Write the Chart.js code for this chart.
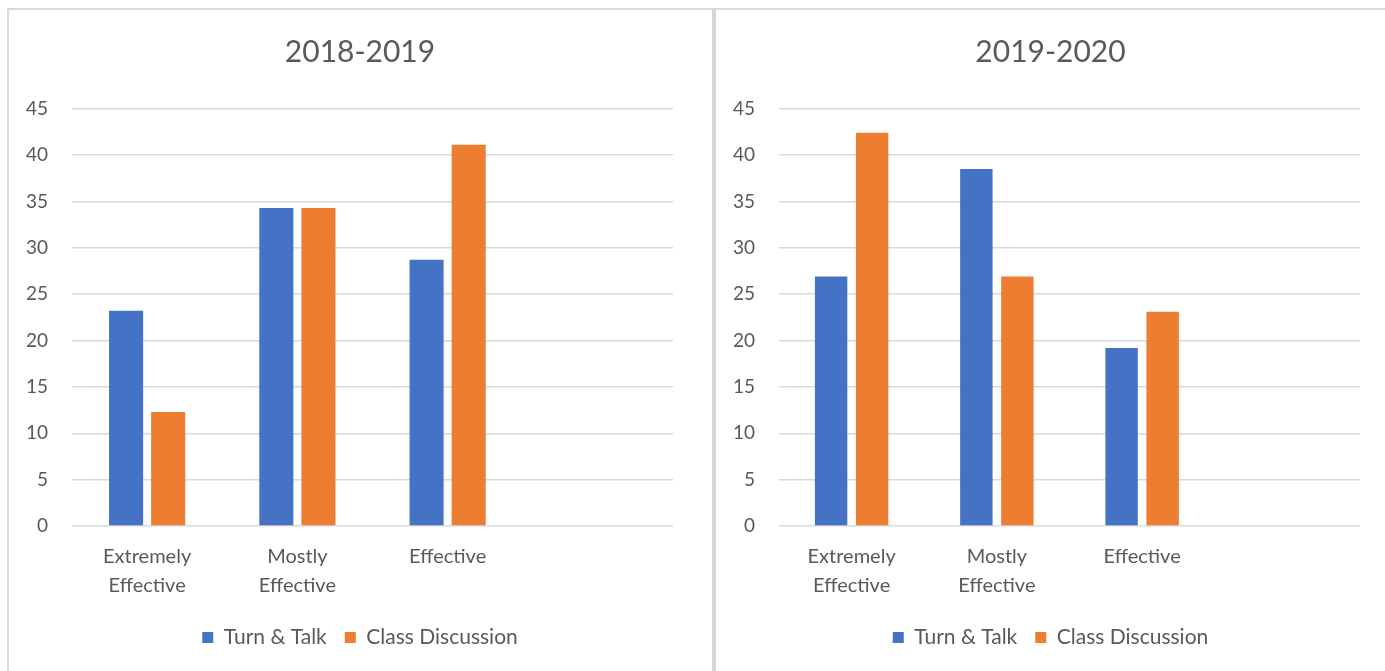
<!DOCTYPE html>
<html>
<head>
<meta charset="utf-8">
<script src="https://cdn.jsdelivr.net/npm/chart.js@4"></script>
<style>
  html, body { margin: 0; padding: 0; background: #ffffff; width: 1385px; height: 671px; overflow: hidden; }
  .line { position: absolute; background: #d9d9d9; }
  .box { position: absolute; }
</style>
</head>
<body>
<div class="line" style="left:7px; top:8px; width:1378px; height:2px;"></div>
<div class="line" style="left:7px; top:8px; width:2px; height:663px;"></div>
<div class="line" style="left:712px; top:8px; width:4px; height:663px; background:#d6d6d6;"></div>
<div class="box" style="left:8px; top:10px; width:704px; height:661px;"><canvas id="c1"></canvas></div>
<div class="box" style="left:716px; top:10px; width:669px; height:661px;"><canvas id="c2"></canvas></div>
<script>
const categories = [["Extremely", "Effective"], ["Mostly", "Effective"], "Effective", ""];
const seriesNames = ["Turn & Talk", "Class Discussion"];
const turnTalk2018 = [23.2, 34.3, 28.7, null];
const classDisc2018 = [12.3, 34.3, 41.1, null];
const turnTalk2019 = [26.9, 38.5, 19.2, null];
const classDisc2019 = [42.4, 26.9, 23.1, null];
const yTicks = [0, 5, 10, 15, 20, 25, 30, 35, 40, 45];
const titles = ["2018-2019", "2019-2020"];

const BLUE = "#4472C4", ORANGE = "#ED7D31", TEXT = "#595959", GRID = "#d9d9d9";
const FONT = "Lato, 'Open Sans', sans-serif";

function makeChart(id, title, a, b, yWidth, rightPad, catPct, barPct) {
  return new Chart(document.getElementById(id), {
    type: "bar",
    data: {
      labels: categories,
      datasets: [
        { label: seriesNames[0], data: a, backgroundColor: BLUE, categoryPercentage: catPct, barPercentage: barPct },
        { label: seriesNames[1], data: b, backgroundColor: ORANGE, categoryPercentage: catPct, barPercentage: barPct }
      ]
    },
    options: {
      responsive: true,
      maintainAspectRatio: false,
      animation: false,
      layout: { padding: { left: 0, right: 0, top: 0, bottom: 13 } },
      plugins: {
        title: {
          display: true, text: title, color: TEXT,
          font: { family: FONT, size: 30, weight: "normal", lineHeight: 1.2 },
          padding: { top: 24, bottom: 38.7 }
        },
        legend: {
          position: "bottom",
          labels: {
            color: TEXT, boxWidth: 11, boxHeight: 11, padding: 18,
            font: { family: FONT, size: 21 }
          }
        },
        tooltip: { enabled: false }
      },
      scales: {
        x: {
          grid: { display: false, drawTicks: false },
          border: { display: false },
          ticks: { color: TEXT, font: { family: FONT, size: 20, lineHeight: 1.45 }, padding: 16, maxRotation: 0, autoSkip: false },
          afterFit(scale) { scale.height = 83; }
        },
        y: {
          min: 0, max: 45,
          afterBuildTicks(scale) { scale.ticks = yTicks.map(v => ({ value: v })); },
          grid: { color: GRID, lineWidth: 1.5, drawTicks: false },
          border: { display: false },
          ticks: { color: TEXT, font: { family: FONT, size: 19 }, padding: 24 },
          afterFit(scale) { scale.width = yWidth; }
        },
        yRight: {
          position: "right", min: 0, max: 45,
          grid: { display: false, drawTicks: false },
          border: { display: false },
          ticks: { display: false },
          afterFit(scale) { scale.width = rightPad; }
        }
      }
    }
  });
}

makeChart("c1", titles[0], turnTalk2018, classDisc2018, 64, 39, 0.56, 0.81);
makeChart("c2", titles[1], turnTalk2019, classDisc2019, 63, 25, 0.565, 0.79);
</script>
</body>
</html>
